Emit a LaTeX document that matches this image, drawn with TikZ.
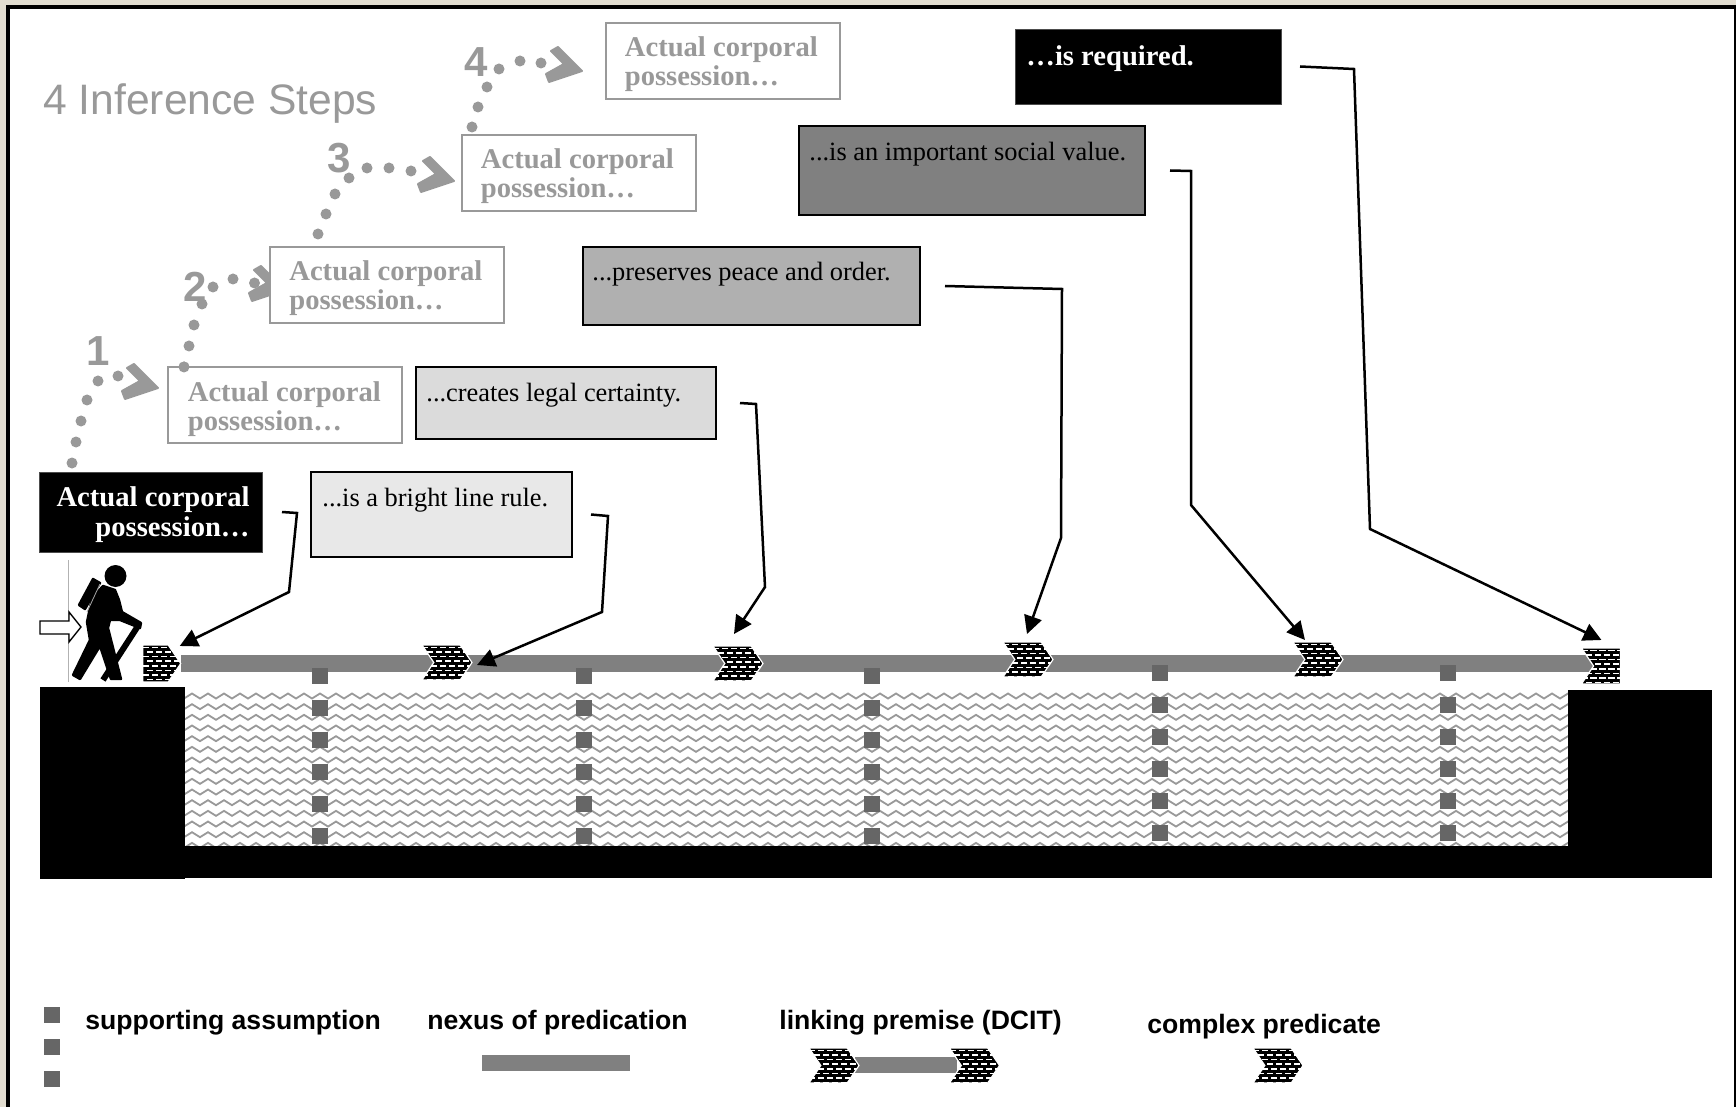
\documentclass[tikz,border=0pt]{standalone}
\usepackage{fontspec}
\setmainfont{Liberation Serif}
\setsansfont{Liberation Sans}
\usetikzlibrary{arrows.meta,calc,fit,shapes.symbols}
\definecolor{beige}{HTML}{E2DDD0}
\definecolor{stepgray}{gray}{0.6}
\definecolor{barGray}{gray}{0.5}
\definecolor{sqGray}{gray}{0.4}
\tikzset{
  rbox/.style={fit={#1},inner sep=0pt,outer sep=0pt},
  stepbox/.style={draw=stepgray,line width=1pt,fill=white},
  callout/.style={draw=black,line width=1.3pt},
  blackbox/.style={draw=black!70,line width=.4pt,fill=black},
  boldtxt/.style={inner sep=0pt,font=\fontsize{14.3}{14.3}\selectfont\bfseries,anchor=base west},
  regtxt/.style={inner sep=0pt,font=\fontsize{13.2}{13.2}\selectfont,anchor=base west,text=black},
  legendtxt/.style={inner sep=0pt,font=\sffamily\bfseries\fontsize{13.3}{13.3}\selectfont,anchor=base west},
  stepnum/.style={inner sep=0pt,text=stepgray,font=\sffamily\bfseries\fontsize{21}{21}\selectfont},
  elbow/.style={draw=black,line width=1.25pt,-{Triangle[length=9pt,width=9pt]},line join=miter},
  chevron/.style={shape=signal,inner sep=0pt,outer sep=0pt,draw=white,line width=.6pt,
    signal pointer angle=112,
    path picture={
      \fill[black] (path picture bounding box.south west) rectangle (path picture bounding box.north east);
      \foreach \r in {0,...,7}{\foreach \c in {0,...,6}{
        \fill[white] ($(path picture bounding box.north west)+({\c*9+mod(\r,2)*4.5},{\r*4.6+1.5})$) rectangle ++(6.2,1.6);
      }}
    }},
  chevboth/.style={chevron,signal from=west,signal to=east},
  chevhead/.style={chevron,signal from=nowhere,signal to=east},
  chevtail/.style={chevron,signal from=west,signal to=nowhere},
  size/.style n args={2}{minimum width=#1*.5pt,minimum height=#2*.5pt},
}
\newcommand{\headmark}[2]{\filldraw[stepgray,line width=1pt,line join=round] ($(#1,#2)+(-31,-20)$) -- ++(7,-4) -- (#1,#2) -- ++(-33,11) -- ++(-3,-8) -- ++(18,-10) -- cycle;}
\begin{document}
\begin{tikzpicture}[x=.5pt,y=-.5pt]
\useasboundingbox (0,0) rectangle (1736,1107);
% frame
\fill[beige] (0,0) rectangle (1736,1107);
\fill[black] (6,5) rectangle (1736,1107);
\fill[white] (10,9) rectangle (1734,1107);
% title
\node[inner sep=0pt,anchor=base west,text=stepgray,font=\sffamily\fontsize{21.3}{21.3}\selectfont] (title) at (43,115) {4 Inference Steps};
% dotted steps
\foreach \x/\y in {72/463,76/442,81/421,87/400,98/381,118/376,
   184/367,189/346,194/325,202/304,213/287,233/279,254.5/283,
   318/234,326/214,335/194,349/178,367/168,389/168,411/171,
   472/127,478/107,487/87,499/69,520/61,541/63}
  \fill[stepgray] (\x,\y) circle (5.5);
\headmark{158}{388}
\headmark{285}{290}
\headmark{454}{181}
\headmark{582}{71}
\node[stepnum] (n1) at (98,351) {1};
\node[stepnum] (n2) at (195,287) {2};
\node[stepnum] (n3) at (339,158) {3};
\node[stepnum] (n4) at (476,62) {4};
% grey inference boxes
\node[rbox={(168,367) (402,443)},stepbox] (s1) {};
\node[rbox={(270,247) (504,323)},stepbox] (s2) {};
\node[rbox={(462,135) (696,211)},stepbox] (s3) {};
\node[rbox={(606,23) (840,99)},stepbox] (s4) {};
\fill[stepgray] (184,367) circle (5.5);
\foreach \nm/\x/\y in {a/187.5/401,b/289/281,c/480.5/169,d/624.5/57}{
  \node[boldtxt,text=stepgray] (st\nm1) at (\x,\y) {Actual corporal};
  \node[boldtxt,text=stepgray] (st\nm2) at (\x,\y+29) {possession…};
}
% black box
\node[rbox={(39,472) (262,552)},blackbox] (actual) {};
\node[boldtxt,text=white,anchor=base east] (act1) at (250,506) {Actual corporal};
\node[boldtxt,text=white,anchor=base east] (act2) at (250,536) {possession…};
% callouts
\node[rbox={(311,472) (572,557)},callout,fill=black!9] (bright) {};
\node[regtxt] (tbright) at (322,506) {...is a bright line rule.};
\node[rbox={(416,367) (716,439)},callout,fill=black!14] (creates) {};
\node[regtxt] (tcreates) at (426,401) {...creates legal certainty.};
\node[rbox={(583,247) (920,325)},callout,fill=black!31] (preserves) {};
\node[regtxt] (tpreserves) at (592,281) {...preserves peace and order.};
\node[rbox={(799,126) (1145,215)},callout,fill=black!50] (important) {};
\node[regtxt] (timportant) at (809,161) {...is an important social value.};
\node[rbox={(1015,29) (1281,104)},blackbox] (required) {};
\node[boldtxt,text=white] (trequired) at (1026,66) {…is required.};
% hatched ground
\begin{scope}
\clip (185,692) rectangle (1568,846);
\foreach \r in {0,...,14}{
  \draw[stepgray,line width=.9pt] (176,{693.5+\r*10.67}) \foreach \i in {0,...,87}{ -- ++(8,5) -- ++(8,-5)};
}
\end{scope}
\fill[black] (40,687) rectangle (185,879);
\fill[black] (185,846) rectangle (1568,878);
\fill[black] (1568,690) rectangle (1712,878);
% nexus bar
\fill[barGray] (181,655) rectangle (1595,672);
% supporting assumptions
\foreach \x in {320,584,872}{\foreach \y in {676,708,740,772,804,836}{\fill[sqGray] (\x-8,\y-8) rectangle ++(16,16);}}
\foreach \x in {1160,1448}{\foreach \y in {673,705,737,769,801,833}{\fill[sqGray] (\x-8,\y-8) rectangle ++(16,16);}}
% complex predicates
\node[chevhead,size={38}{37}] (p1) at (155.5,663.5) {};
\node[chevboth,size={50}{35}] (p2) at (447,662.5) {};
\node[chevboth,size={50}{35}] (p3) at (738,663.5) {};
\node[chevboth,size={50}{35}] (p4) at (1028,659.5) {};
\node[chevboth,size={50}{35}] (p5) at (1318,659.5) {};
\node[chevtail,size={39}{36}] (p6) at (1607,666) {};
% connectors
\coordinate (a1) at ($(actual.east)+(20,0)$);
\coordinate (b1) at (297,513);
\coordinate (d1) at (289,592);
\coordinate (e1) at ($(p1.east)+(-1,-17.5)$);
\draw[elbow] (a1) -- (b1) -- (d1) -- (e1);
\coordinate (a2) at ($(bright.east)+(19,0)$);
\coordinate (b2) at (608,516);
\coordinate (d2) at (602,612);
\coordinate (e2) at ($(p2.east)+(5,2.5)$);
\draw[elbow] (a2) -- (b2) -- (d2) -- (e2);
\coordinate (a3) at ($(creates.east)+(24,0)$);
\coordinate (b3) at (756,404);
\coordinate (d3) at (765,587);
\coordinate (e3) at ($(p3.east)+(-29,-29.5)$);
\draw[elbow] (a3) -- (b3) -- (d3) -- (e3);
\coordinate (a4) at ($(preserves.east)+(25,0)$);
\coordinate (b4) at (1062,289);
\coordinate (d4) at (1061,538);
\coordinate (e4) at ($(p4.east)+(-26,-25.5)$);
\draw[elbow] (a4) -- (b4) -- (d4) -- (e4);
\coordinate (a5) at ($(important.east)+(25,0)$);
\coordinate (b5) at (1191,171);
\coordinate (d5) at (1191,505);
\coordinate (e5) at ($(p5.east)+(-38,-19.5)$);
\draw[elbow] (a5) -- (b5) -- (d5) -- (e5);
\coordinate (a6) at ($(required.east)+(19,0)$);
\coordinate (b6) at (1354,69);
\coordinate (d6) at (1370,529);
\coordinate (e6) at ($(p6.east)+(-19,-26)$);
\draw[elbow] (a6) -- (b6) -- (d6) -- (e6);
% hiker
\draw[gray!60,line width=.4pt] (68,560) -- (68,682);
\fill[black] (115.5,576) circle (11);
\filldraw[black,line width=1.2pt,line join=round] (79,605) -- (93,579) -- (100,583) -- (85,609) -- cycle;
\filldraw[black,line width=1.2pt,line join=round] (103,586) -- (115,590) -- (119,600) -- (122,612) -- (141,623) -- (140,628) -- (120,620) -- (110,620)
   -- (108,628) -- (121,679) -- (111,679) -- (100,646) -- (80,679) -- (73,675) -- (90,640) -- (87,622) -- (92,598) -- cycle;
\draw[gray!70,line width=.4pt] (100,584) -- (87,612);
\draw[black,line width=3pt] (138,626) -- (103,680);
% small arrow
\draw[black,line width=.7pt,fill=white] (40,621) -- (69,621) -- (69,612) -- (81,627) -- (69,642) -- (69,634) -- (40,634) -- cycle;
% legend
\foreach \y in {1007,1039,1071}{\fill[sqGray] (44,\y) rectangle ++(16,16);}
\node[legendtxt] (l1) at (85,1029) {supporting assumption};
\node[legendtxt] (l2) at (427,1029) {nexus of predication};
\fill[barGray] (482,1055) rectangle (630,1071);
\node[legendtxt] (l3) at (779,1029) {linking premise (DCIT)};
\fill[barGray] (855,1057) rectangle (957,1073);
\node[chevboth,size={50}{35}] (k1) at (834,1065.5) {};
\node[chevboth,size={50}{35}] (k2) at (974.5,1065.5) {};
\node[legendtxt] (l4) at (1147,1033) {complex predicate};
\node[chevboth,size={50}{35}] (k3) at (1278,1065.5) {};
\end{tikzpicture}
\end{document}
